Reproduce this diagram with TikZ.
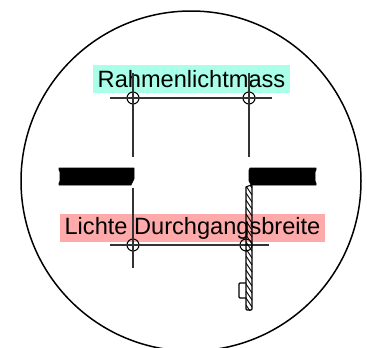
\documentclass[tikz,border=0pt]{standalone}
\usepackage{fontspec}
\setmainfont{Liberation Sans}
\usepackage{tikz}
\definecolor{frameCyan}{RGB}{170,255,232}
\definecolor{clearRed}{RGB}{255,170,170}
\begin{document}
\begin{tikzpicture}[x=1pt,y=-1pt]
	\useasboundingbox (0,0) rectangle (367,348);

	\tikzstyle{label}=[inner sep=0pt, minimum height=28pt, text=black, font=\fontsize{23.6}{24}\selectfont]
	\tikzstyle{cross}=[draw, circle, line width=1.1pt, minimum size=12pt, inner sep=0pt]
	\tikzstyle{slab}=[fill=black, draw=black, line width=0.6pt, line join=round]
	\tikzstyle{dimLine}=[line width=1.2pt, black!80]

	\node[circle, minimum size=340pt, inner sep=0pt] (C) at (191,181) {};
	\draw[line width=1.5pt] (C) circle (170pt);

	\node[label, fill=frameCyan, minimum width=197pt] (R) at (191.5,79) {Rahmenlichtmass};
	\node[label, fill=clearRed, minimum width=265pt] (L) at (192.5,228) {Lichte Durchgangsbreite};

	\draw[slab] (59,168)--(134,168)--(134,179)--(131,185)--(59,185)--(59,183)--(60,181)--(60,172)--(59,170)--cycle;
	\draw[slab] (250,168)--(316,168)--(316,170)--(315,172)--(315,181)--(316,183)--(316,185)--(251,185)--(249,181)--(249,170)--cycle;

	\node[cross] (A) at (133,98) {};
	\node[cross] (B) at (249,98) {};
	\node[cross] (D) at (133,245) {};
	\node[cross] (E) at (246,245) {};

	\coordinate (a1) at (110,98);
	\coordinate (a2) at (272,98);
	\coordinate (d1) at (110,245);
	\coordinate (d2) at (269,245);
	\coordinate (v1) at (133,73);
	\coordinate (v2) at (133,157);
	\coordinate (v3) at (249,73);
	\coordinate (v4) at (249,157);
	\coordinate (v5) at (133,188);
	\coordinate (v6) at (133,268);

	\draw[dimLine] (a1)--(a2);
	\draw[dimLine] (d1)--(d2);
	\draw[dimLine] (v1)--(v2);
	\draw[dimLine] (v3)--(v4);
	\draw[dimLine] (v5)--(v6);

	% door leaf
	\begin{scope}
		\clip (246,186) rectangle (252,310);
		\foreach \y in {172,179,...,310}
			\draw[line width=0.9pt] (246,\y)--(252,\y+9);
	\end{scope}
	\draw[line width=1.1pt] (246,187)--(251,185)--(252,186)--(252,309)--(251,310)--(247,310)--(246,309)--cycle;
	\draw[line width=1.3pt, rounded corners=1pt] (246,283)--(239,283)--(239,298)--(246,298);
\end{tikzpicture}
\end{document}
